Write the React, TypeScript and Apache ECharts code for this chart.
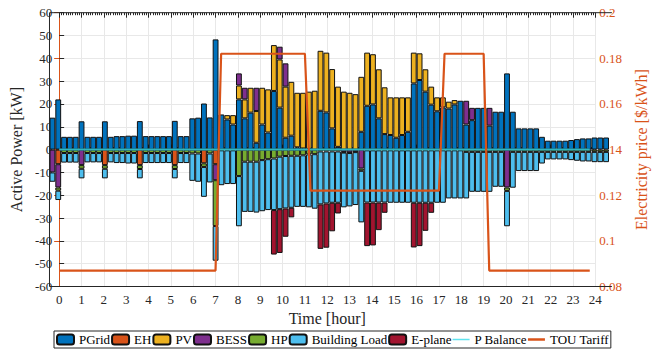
import { useEffect, useRef } from "react";
import * as echarts from "echarts";

// 15-minute dispatch slots over one day (hours)
const slotHours = Array.from({ length: 96 }, (_, k) => k * 0.25);
const slotNames = slotHours.map((t) => t.toFixed(2));
const hourRange = [0, 24];

// Active power per slot [kW]; positive = supply, negative = consumption
const pGrid = [
  14.0, 22.0, 5.6, 5.6, 5.6, 12.4, 5.6, 5.6, 5.6, 12.4, 5.6, 5.9, 5.9, 6.1, 6.1, 12.5, 5.9, 5.9, 5.9, 5.9,
  5.9, 12.6, 5.9, 5.9, 13.7, 14.0, 20.2, 14.1, 48.3, 15.4, 13.2, 11.0, 22.0, 13.7, 16.2, 3.0, 11.0, 7.5, 25.7, 18.4,
  5.2, 6.1, 1.0, 0.5, 0.3, 0, 17.0, 16.3, 9.3, 1.2, 0, 0, 0, 7.8, 19.2, 19.8, 13.7, 6.8, 6.4, 5.2,
  6.4, 7.8, 29.0, 30.5, 25.4, 19.7, 16.8, 18.5, 18.0, 19.8, 21.4, 11.0, 12.9, 18.3, 18.3, 10.5, 16.6, 16.6, 33.4, 16.6,
  9.3, 9.3, 9.3, 9.3, 5.6, 3.9, 3.9, 3.9, 3.9, 4.2, 4.6, 4.9, 4.9, 5.3, 5.3, 5.3,
];
const eh = [
  0, -6.4, 0, 0, 0, 0, 0, 0, 0, -6.8, 0, 0, 0, 0, 0, -6.8, 0, 0, 0, 0,
  0, -6.8, 0, 0, 0, 0, -6.0, 0, -6.4, 0, 0, 0, 0, 0, 0, 0, 0, 0, 0, 0,
  0, 0, 0, 0, 0, 0, 0, 0, 0, 0, 0, 0, 0, 0, 0, 0, 0, 0, 0, 0,
  0, 0, 0, 0, 0, 0, 0, 0, 0, 0, 0, 0, 0, 0, 0, 0, 0, 0, 0, 0,
  0, 0, 0, 0, 0, 0, 0, 0, 0, 0, 0, 0, 0, 0, 0, 0,
];
const pv = [
  0, 0, 0, 0, 0, 0, 0, 0, 0, 0, 0, 0, 0, 0, 0, 0, 0, 0, 0, 0,
  0, 0, 0, 0, 0, 0, 0, 0, 0, 0, 1.9, 4.1, 6.1, 8.3, 10.9, 13.9, 16.1, 18.9, 20.1, 21.1,
  22.4, 23.6, 23.9, 24.4, 25.1, 25.8, 26.3, 26.2, 26.0, 26.4, 25.4, 24.9, 24.3, 24.1, 23.3, 22.0, 21.5, 20.5, 16.5, 17.7,
  16.5, 15.1, 13.5, 11.7, 9.8, 7.9, 6.1, 4.4, 3.0, 1.9, 0, 0, 0, 0, 0, 0, 0, 0, 0, 0,
  0, 0, 0, 0, 0, 0, 0, 0, 0, 0, 0, 0, 0, 0, 0, 0,
];
const bess = [
  -10.0, -10.2, 0, 0, 0, -6.8, 0, 0, 0, 0, 0, 0, 0, 0, 0, 0, 0, 0, 0, 0,
  0, 0, 0, 0, 0, 0, 0, 0, -7.0, 0, 0, 0, 5.3, 5.1, 0, 10.2, 0, 0, 0, 5.6,
  10.2, 0, 0, 0, 0, 0, 0, 0, 0, 0, -1.0, -1.2, -0.8, -8.3, 0, 0, 0, 0, 0, 0,
  0, 0, 0, 0, 0, 0, 0, 0, 0, 0, 0, 10.4, 5.4, 0, 0, 7.8, 0, 0, -16.6, 0,
  0, 0, 0, 0, 0, 0, 0, 0, 0, 0, 0, 0, 0, 0, 0, 0,
];
const hp = [
  0, -1.4, -1.5, -1.5, -1.5, -1.6, -1.5, -1.5, -1.5, -1.6, -1.5, -1.5, -1.5, -1.5, -1.5, -1.7, -1.5, -1.5, -1.5, -1.5,
  -1.5, -1.7, -1.5, -1.5, -1.7, -1.7, -1.6, -1.7, -20.1, -0.3, -0.3, -0.3, -11.6, -5.3, -5.3, -5.3, -4.6, -4.2, -3.9, -3.1,
  -2.8, -2.7, -2.7, -2.5, -2.1, -2.0, -0.8, -0.8, -0.8, -0.8, -0.3, -0.3, -0.3, -1.0, -0.3, -0.3, -0.3, -0.3, -0.3, -0.3,
  -0.3, -0.3, -0.3, -0.3, -0.3, -0.3, -0.3, -0.3, -0.3, -0.3, -0.3, -1.0, -1.0, -1.0, -1.0, -1.0, -1.0, -1.0, -1.5, -1.0,
  -1.0, -1.0, -1.0, -1.0, -1.0, -1.0, -1.0, -1.0, -1.0, -1.0, -1.0, -1.0, -1.0, -1.0, -1.0, -1.0,
];
const buildingLoad = [
  -4.1, -4.1, -4.2, -4.2, -4.2, -4.2, -4.1, -4.1, -4.1, -4.2, -4.1, -4.4, -4.4, -4.6, -4.6, -4.1, -4.4, -4.4, -4.4, -4.4,
  -4.4, -4.1, -4.4, -4.4, -12.0, -12.4, -13.1, -12.7, -15.2, -15.3, -14.8, -14.8, -22.0, -22.0, -22.0, -22.3, -22.4, -22.3, -22.6, -23.0,
  -23.0, -22.8, -22.4, -22.6, -23.2, -23.9, -23.2, -22.8, -22.5, -22.5, -24.0, -23.4, -23.2, -22.6, -22.9, -22.9, -22.9, -22.9, -23.0, -23.0,
  -23.0, -23.0, -23.0, -23.0, -23.0, -23.0, -23.0, -23.0, -21.1, -21.1, -21.1, -20.4, -17.5, -17.5, -17.5, -17.5, -15.3, -15.3, -15.5, -15.7,
  -8.4, -8.4, -8.4, -8.4, -5.1, -3.3, -3.3, -3.3, -3.3, -3.6, -3.9, -4.2, -4.2, -4.5, -4.5, -4.5,
];
const ePlane = [
  0, 0, 0, 0, 0, 0, 0, 0, 0, 0, 0, 0, 0, 0, 0, 0, 0, 0, 0, 0,
  0, 0, 0, 0, 0, 0, 0, 0, 0, 0, 0, 0, 0, 0, 0, 0, 0, 0, -19.5, -19.2,
  -12.4, -4.2, 0, 0, 0, 0, -19.5, -19.4, -12.5, -4.7, 0, 0, 0, 0, -19.1, -18.8, -12.1, -4.5, 0, 0,
  0, 0, -19.6, -19.0, -12.3, -4.4, 0, 0, 0, 0, 0, 0, 0, 0, 0, 0, 0, 0, 0, 0,
  0, 0, 0, 0, 0, 0, 0, 0, 0, 0, 0, 0, 0, 0, 0, 0,
];
const pBalance = [
  0, 0, 0, 0, 0, 0, 0, 0, 0, 0, 0, 0, 0, 0, 0, 0, 0, 0, 0, 0, 0, 0, 0, 0,
  0, 0, 0, 0, 0, 0, 0, 0, 0, 0, 0, 0, 0, 0, 0, 0, 0, 0, 0, 0, 0, 0, 0, 0,
  0, 0, 0, 0, 0, 0, 0, 0, 0, 0, 0, 0, 0, 0, 0, 0, 0, 0, 0, 0, 0, 0, 0, 0,
  0, 0, 0, 0, 0, 0, 0, 0, 0, 0, 0, 0, 0, 0, 0, 0, 0, 0, 0, 0, 0, 0, 0, 0,
];
// Time-of-use tariff [$/kWh]
const touTariff = [
  0.087, 0.087, 0.087, 0.087, 0.087, 0.087, 0.087, 0.087, 0.087, 0.087, 0.087, 0.087, 0.087, 0.087, 0.087, 0.087,
  0.087, 0.087, 0.087, 0.087, 0.087, 0.087, 0.087, 0.087, 0.087, 0.087, 0.087, 0.087, 0.087, 0.182, 0.182, 0.182,
  0.182, 0.182, 0.182, 0.182, 0.182, 0.182, 0.182, 0.182, 0.182, 0.182, 0.182, 0.182, 0.182, 0.122, 0.122, 0.122,
  0.122, 0.122, 0.122, 0.122, 0.122, 0.122, 0.122, 0.122, 0.122, 0.122, 0.122, 0.122, 0.122, 0.122, 0.122, 0.122,
  0.122, 0.122, 0.122, 0.122, 0.122, 0.182, 0.182, 0.182, 0.182, 0.182, 0.182, 0.182, 0.182, 0.087, 0.087, 0.087,
  0.087, 0.087, 0.087, 0.087, 0.087, 0.087, 0.087, 0.087, 0.087, 0.087, 0.087, 0.087, 0.087, 0.087, 0.087, 0.087,
];

const SERIF = "'Liberation Serif', 'DejaVu Serif', serif";
const INK = "#262626";
const ORANGE = "#D95319";
const CYAN = "#2fb6c0";
const CYAN_KEY = "#5fe3ee";
const GRID_LINE = "#e8e8e8";

const W = 657;
const H = 352;
const PLOT_LEFT = 52.4; // x of hour 0
const PLOT_RIGHT = 611.9; // x of hour 24
const PLOT_TOP = 12.7;
const PLOT_BOTTOM = 286.5;
const SLOT_PX = (PLOT_RIGHT - PLOT_LEFT) / 96;
const BAR_LEFT = PLOT_LEFT - SLOT_PX / 2; // first slot is centred on hour 0
const BAR_RIGHT = BAR_LEFT + 96 * SLOT_PX;

function barSeries(name: string, values: number[], color: string) {
  return {
    type: "bar",
    name,
    stack: "power",
    xAxisIndex: 2,
    yAxisIndex: 2,
    barWidth: "100%",
    z: 2,
    itemStyle: { color, borderColor: "#111", borderWidth: 1 },
    emphasis: { disabled: true },
    data: values.map((v) => (v === 0 ? "-" : v)),
  };
}

export default function App() {
  const ref = useRef<HTMLDivElement>(null);

  useEffect(() => {
    const chart = echarts.init(ref.current!, null, { renderer: "svg" });
    const hourAxis = { type: "value", min: hourRange[0], max: hourRange[1], interval: 1, gridIndex: 0 };
    const ticks = {
      axisTick: { show: true, inside: true, length: 5, lineStyle: { color: INK } },
      minorTick: { show: true, splitNumber: 10, length: 2.5, lineStyle: { color: INK } },
    };
    chart.setOption({
      animation: false,
      backgroundColor: "#fff",
      grid: [
        { left: PLOT_LEFT, right: W - PLOT_RIGHT, top: PLOT_TOP, bottom: H - PLOT_BOTTOM },
        { left: BAR_LEFT, right: W - BAR_RIGHT, top: PLOT_TOP, bottom: H - PLOT_BOTTOM },
      ],
      xAxis: [
        {
          ...hourAxis,
          position: "bottom",
          name: "Time [hour]",
          nameLocation: "middle",
          nameGap: 23,
          nameTextStyle: { fontFamily: SERIF, fontSize: 16, color: INK },
          axisLine: { show: false },
          ...ticks,
          axisLabel: { fontFamily: SERIF, fontSize: 13, color: INK, margin: 6 },
          splitLine: { show: true, lineStyle: { color: GRID_LINE, width: 1 } },
        },
        {
          ...hourAxis,
          position: "top",
          axisLine: { show: false },
          ...ticks,
          axisLabel: { show: false },
          splitLine: { show: false },
        },
        {
          type: "category",
          gridIndex: 1,
          data: slotNames,
          boundaryGap: true,
          show: false,
        },
      ],
      yAxis: [
        {
          type: "value",
          gridIndex: 0,
          min: -60,
          max: 60,
          interval: 10,
          position: "left",
          offset: PLOT_LEFT - BAR_LEFT,
          name: "Active Power [kW]",
          nameLocation: "middle",
          nameGap: 27,
          nameRotate: 90,
          nameTextStyle: { fontFamily: SERIF, fontSize: 16, color: INK },
          axisLine: { show: false },
          axisTick: { show: true, inside: true, length: 5, lineStyle: { color: INK } },
          axisLabel: { fontFamily: SERIF, fontSize: 13, color: INK, margin: 4 },
          splitLine: { show: true, lineStyle: { color: GRID_LINE, width: 1 } },
        },
        {
          type: "value",
          gridIndex: 0,
          min: 0.08,
          max: 0.2,
          interval: 0.02,
          position: "right",
          name: "Electricity price [$/kWh]",
          nameLocation: "middle",
          nameGap: 31,
          nameRotate: 90,
          nameTextStyle: { fontFamily: SERIF, fontSize: 16, color: ORANGE },
          axisLine: { show: true, lineStyle: { color: ORANGE, width: 1 } },
          axisTick: { show: true, inside: true, length: 5, lineStyle: { color: ORANGE } },
          axisLabel: {
            fontFamily: SERIF,
            fontSize: 13,
            color: ORANGE,
            margin: 4,
            formatter: (v: number) => String(+v.toFixed(2)),
          },
          splitLine: { show: false },
        },
        {
          type: "value",
          gridIndex: 1,
          min: -60,
          max: 60,
          show: false,
          splitLine: { show: false },
        },
      ],
      legend: {
        left: 54,
        top: 331,
        orient: "horizontal",
        itemWidth: 17,
        itemHeight: 10,
        itemGap: 1,
        padding: [2, 2],
        borderColor: INK,
        borderWidth: 1,
        textStyle: { fontFamily: SERIF, fontSize: 13, color: "#000" },
        data: [
          "PGrid",
          "EH",
          "PV",
          "BESS",
          "HP",
          "Building Load",
          "E-plane",
          {
            name: "P Balance",
            icon: "path://M0,0H17V1.5H0Z",
            itemStyle: { color: CYAN_KEY, borderWidth: 0 },
          },
          {
            name: "TOU Tariff",
            icon: "path://M0,0H17V2.5H0Z",
            itemStyle: { color: ORANGE, borderWidth: 0 },
          },
        ],
      },
      graphic: [
        {
          type: "polyline",
          z: 100,
          silent: true,
          shape: {
            points: [
              [PLOT_RIGHT, PLOT_TOP],
              [BAR_LEFT, PLOT_TOP],
              [BAR_LEFT, PLOT_BOTTOM],
              [PLOT_RIGHT, PLOT_BOTTOM],
            ],
          },
          style: { stroke: INK, lineWidth: 1, fill: null },
        },
      ],
      series: [
        barSeries("PGrid", pGrid, "#0072BD"),
        barSeries("EH", eh, "#D95319"),
        barSeries("PV", pv, "#EDB120"),
        barSeries("BESS", bess, "#7E2F8E"),
        barSeries("HP", hp, "#77AC30"),
        barSeries("Building Load", buildingLoad, "#4DBEEE"),
        barSeries("E-plane", ePlane, "#A2142F"),
        {
          type: "line",
          name: "P Balance",
          xAxisIndex: 0,
          yAxisIndex: 0,
          symbol: "none",
          z: 5,
          lineStyle: { color: CYAN, width: 2 },
          itemStyle: { color: CYAN_KEY },
          emphasis: { disabled: true },
          data: slotHours.map((t, k) => [t, pBalance[k]]),
        },
        {
          type: "line",
          name: "TOU Tariff",
          xAxisIndex: 0,
          yAxisIndex: 1,
          symbol: "none",
          z: 6,
          lineStyle: { color: ORANGE, width: 2.2 },
          itemStyle: { color: ORANGE },
          emphasis: { disabled: true },
          data: slotHours.map((t, k) => [t, touTariff[k]]),
        },
      ],
    });
    return () => chart.dispose();
  }, []);

  return (
    <div
      ref={ref}
      style={{ position: "fixed", left: 0, top: 0, width: W, height: H, background: "#fff" }}
    />
  );
}
